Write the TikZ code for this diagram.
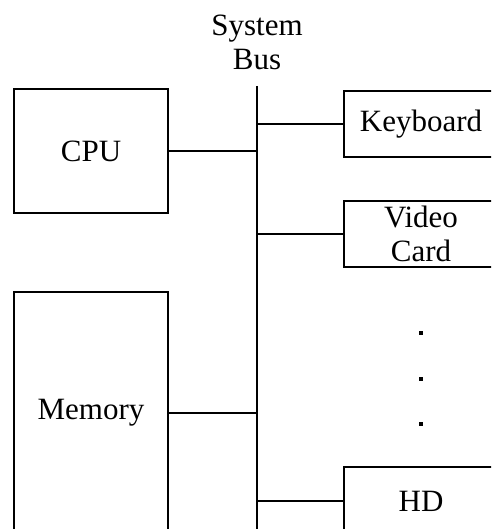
\documentclass[tikz,border=0pt]{standalone}
\usepackage{fontspec}
\setmainfont{Liberation Serif}
\usetikzlibrary{positioning, calc}

\begin{document}
\begin{tikzpicture}[x=1pt, y=-1pt, line width=1.5pt,
                    unit/.style={draw, line width=1.5pt, minimum width=154pt, inner sep=0pt, font=\fontsize{31}{34}\selectfont, align=center}]
                    \useasboundingbox (0,0) rectangle (491,529);
                    \clip (0,0) rectangle (491,529);

                    % Bus
                    \coordinate (bustop) at (257, 86);
                    \coordinate (busbot) at (257, 540);
                    \draw (bustop) -- (busbot);
                    \node[font=\fontsize{31}{34}\selectfont, align=center, above=12pt of bustop] (buslabel) {System\\Bus};

                    % Left side: CPU and Memory
                    \node[unit, minimum height=124pt] (cpu) at (91, 151) {CPU};
                    \node[unit, minimum height=242pt] (mem) at (91, 413) {Memory};

                    % Right side: devices
                    \node[unit, minimum height=66pt] (kbd) at (421, 124) {Keyboard};
                    \node[unit, minimum height=66pt] (video) at (421, 234) {Video\\Card};
                    \node[unit, minimum height=68pt] (hd) at (421, 501) {HD};

                    % Dots between devices
                    \foreach \y/\n in {333/d1, 379/d2, 424/d3}
                        \fill (419, \y-2) rectangle ++(4, 4) coordinate (\n);

                    % Connections to the bus
                    \draw (cpu.east) -- (cpu.east -| bustop);
                    \draw (mem.east) -- (mem.east -| bustop);
                    \draw (kbd.west) -- (kbd.west -| bustop);
                    \draw (video.west) -- (video.west -| bustop);
                    \draw (hd.west) -- (hd.west -| bustop);
                \end{tikzpicture}
\end{document}
